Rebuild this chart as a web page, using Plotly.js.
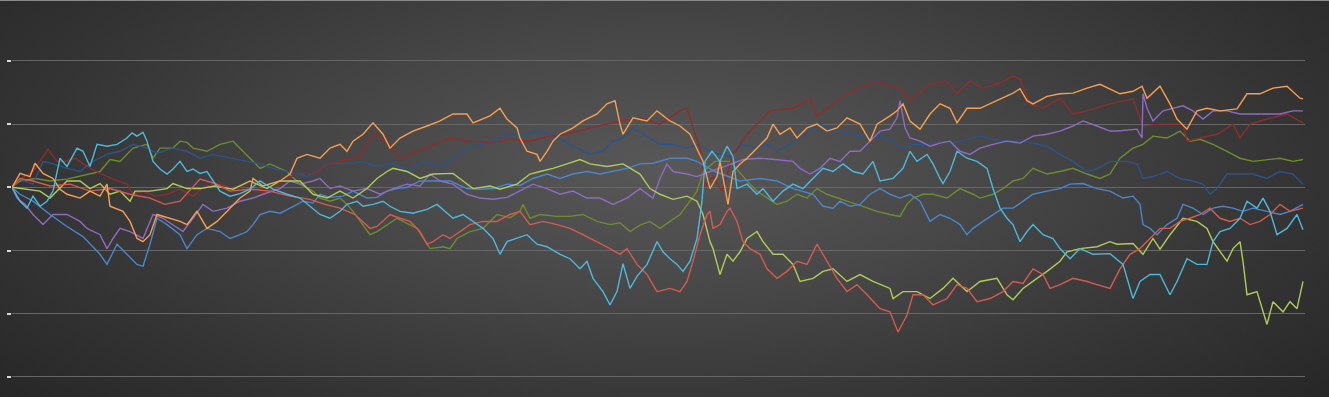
<!DOCTYPE html>
<html>
<head>
<meta charset="utf-8">
<script src="https://cdn.plot.ly/plotly-3.0.1.min.js"></script>
<style>
  html, body { margin: 0; padding: 0; }
  body {
    width: 1329px; height: 397px; overflow: hidden;
    background: radial-gradient(ellipse 70% 95% at 50% 42%, #585858 0%, #474747 35%, #333333 70%, #242424 100%);
  }
  #chart { width: 1329px; height: 397px; border-top: 1px solid #8a8a8a; box-sizing: border-box; }
</style>
</head>
<body>
<div id="chart"></div>
<script>
// Random-walk series (time step, value; one grid step = 1)
const seriesNames = ["Blue", "Dark red", "Orange", "Lime", "Purple", "Cyan", "Red", "Olive", "Navy"];

const tNavy = [0,8,21,31,41,55,68,81,95,108,121,135,145,161,175,188,201,218,235,248,261,275,288,295,305,315,328,341,351,365,381,398,411,428,441,451,461,475,488,501,515,525,538,551,565,578,591,601,611,621,635,648,661,675,685,703,718,731,745,755,765,778,788,798,808,815,828,841,855,868,881,891,901,915,928,941,955,968,981,995,1008,1021,1035,1048,1061,1075,1085,1098,1115,1125,1131,1141,1155,1168,1181,1191,1198,1205,1215,1228,1241,1255,1268,1281,1291];
const vNavy = [0,0.13,0.05,0.41,0.37,0.30,0.25,0.41,0.52,0.57,0.68,0.62,0.54,0.62,0.57,0.46,0.52,0.46,0.41,0.37,0.30,0.25,0.21,0.17,0.25,0.37,0.37,0.38,0.41,0.33,0.38,0.25,0.41,0.33,0.46,0.57,0.65,0.70,0.78,0.84,0.84,0.89,0.84,0.73,0.62,0.52,0.57,0.73,0.78,0.94,0.81,0.68,0.68,0.62,0.68,0.54,0.49,0.68,0.62,0.68,0.57,0.68,0.78,0.89,1.00,0.94,0.89,0.84,0.78,0.81,0.73,0.62,0.68,0.68,0.73,0.70,0.76,0.81,0.76,0.73,0.73,0.70,0.65,0.52,0.41,0.25,0.29,0.41,0.41,0.37,0.14,0.17,0.25,0.14,0.10,0.05,-0.11,-0.02,0.21,0.21,0.21,0.14,0.25,0.21,0.05];

const tOlive = [0,8,23,38,55,75,88,98,108,121,135,141,148,161,168,175,181,195,208,221,228,241,248,258,275,288,301,308,318,328,335,341,351,358,365,375,385,395,405,418,431,438,445,458,471,485,498,508,511,518,528,545,558,571,585,598,608,618,628,638,648,658,668,678,685,691,703,718,735,745,755,765,775,785,795,805,815,825,835,845,855,865,878,888,895,901,911,921,935,948,961,968,981,991,1001,1011,1021,1035,1048,1061,1075,1088,1098,1108,1121,1131,1141,1155,1168,1178,1188,1201,1215,1228,1241,1255,1268,1281,1291];
const vOlive = [0,0.10,0.14,0.10,0.13,0.21,0.25,0.44,0.41,0.62,0.68,0.46,0.62,0.62,0.73,0.71,0.62,0.57,0.68,0.73,0.62,0.41,0.30,0.37,0.25,0.05,-0.06,-0.17,-0.22,-0.17,-0.27,-0.38,-0.59,-0.75,-0.70,-0.59,-0.49,-0.57,-0.65,-0.97,-0.94,-0.97,-0.81,-0.70,-0.65,-0.43,-0.48,-0.38,-0.27,-0.49,-0.43,-0.46,-0.46,-0.43,-0.54,-0.59,-0.56,-0.70,-0.60,-0.54,-0.65,-0.54,-0.43,-0.22,-0.06,0.25,0.41,0.41,0.10,-0.06,-0.17,-0.27,-0.22,-0.11,-0.17,-0.02,-0.11,-0.17,-0.22,-0.27,-0.33,-0.38,-0.43,-0.46,-0.27,-0.17,-0.11,-0.11,-0.17,-0.02,-0.11,-0.17,-0.11,-0.02,0.10,0.14,0.30,0.21,0.25,0.30,0.21,0.14,0.21,0.46,0.62,0.68,0.81,0.78,0.89,0.73,0.76,0.68,0.57,0.46,0.41,0.44,0.46,0.41,0.44];

const tBlue = [0,8,21,38,55,71,88,95,105,115,125,131,138,145,155,168,175,185,195,208,218,228,235,241,248,258,268,278,291,301,308,318,331,341,355,365,375,385,395,408,421,438,455,468,481,495,508,521,535,548,561,575,588,601,615,628,641,658,675,685,703,728,748,765,781,801,811,821,828,838,848,858,868,878,888,898,908,918,928,938,948,955,961,971,981,991,1001,1011,1021,1035,1048,1058,1071,1085,1098,1111,1121,1128,1131,1138,1145,1155,1165,1171,1181,1191,1201,1211,1221,1231,1241,1255,1268,1278,1291];
const vBlue = [0,-0.11,-0.22,-0.43,-0.62,-0.78,-1.06,-1.22,-0.90,-1.06,-1.22,-1.25,-0.90,-0.49,-0.59,-0.75,-0.97,-0.75,-0.65,-0.70,-0.81,-0.75,-0.70,-0.59,-0.43,-0.38,-0.41,-0.33,-0.22,-0.25,-0.11,-0.16,-0.14,-0.06,-0.17,-0.16,-0.06,-0.02,0,0.10,0.10,0.10,-0.02,-0.03,-0.02,0.05,0.03,0.14,0.21,0.14,0.21,0.25,0.21,0.25,0.30,0.37,0.38,0.46,0.46,0.41,0.25,0.10,0.14,0.10,-0.02,-0.11,-0.30,-0.33,-0.22,-0.30,-0.27,-0.11,-0.02,-0.11,-0.17,-0.11,-0.22,-0.54,-0.43,-0.49,-0.59,-0.75,-0.65,-0.54,-0.43,-0.33,-0.33,-0.22,-0.11,-0.06,-0.02,0.05,0.06,-0.02,-0.06,-0.17,-0.14,-0.27,-0.59,-0.65,-0.75,-0.59,-0.49,-0.27,-0.33,-0.43,-0.33,-0.30,-0.33,-0.38,-0.33,-0.38,-0.43,-0.38,-0.27];

const tPurple = [0,5,13,21,31,41,55,68,75,88,95,101,108,118,131,141,151,161,171,181,191,201,215,228,241,251,268,278,288,301,308,318,328,341,355,368,381,395,408,418,428,441,455,468,481,495,508,521,535,548,561,575,588,601,615,628,641,648,655,661,675,685,698,713,731,748,763,781,788,798,808,818,828,838,848,858,868,878,885,888,893,898,908,918,928,938,948,958,968,981,995,1008,1021,1035,1048,1061,1071,1085,1098,1105,1125,1130,1131,1135,1141,1151,1161,1171,1181,1191,1201,1215,1228,1241,1255,1268,1281,1291];
const vPurple = [0,-0.17,-0.27,-0.43,-0.59,-0.43,-0.43,-0.54,-0.65,-0.75,-0.97,-0.81,-0.65,-0.70,-0.81,-0.43,-0.49,-0.59,-0.70,-0.49,-0.27,-0.38,-0.33,-0.22,-0.17,-0.11,-0.02,0.10,0.05,0.10,0.14,-0.02,0.02,-0.06,-0.02,-0.11,-0.02,0.05,0.02,0.21,0.10,0.05,-0.11,-0.17,-0.19,-0.16,-0.06,0.05,-0.02,-0.11,-0.06,-0.17,-0.17,-0.27,-0.17,-0.02,-0.17,0.14,0.37,0.25,0.21,0.17,0.25,0.33,0.44,0.46,0.44,0.41,0.30,0.21,0.30,0.46,0.41,0.57,0.57,0.73,0.89,0.92,1.10,1.37,0.94,0.78,0.73,0.65,0.70,0.73,0.57,0.52,0.62,0.68,0.73,0.70,0.81,0.84,0.89,0.97,1.05,0.97,0.89,0.89,0.92,0.78,1.48,1.25,1.05,1.21,1.25,1.29,1.21,1.08,1.21,1.21,1.16,1.16,1.17,1.16,1.21,1.21];

const tLime = [0,13,28,38,55,68,78,88,98,108,118,123,138,155,161,175,188,203,221,238,255,268,288,301,315,328,341,355,365,375,381,395,408,421,441,451,461,478,488,505,518,528,541,555,568,578,595,611,628,638,648,661,675,685,691,698,701,708,715,721,728,735,745,751,761,771,781,788,801,811,821,835,848,861,878,881,891,905,918,931,941,955,968,985,995,1001,1011,1025,1035,1048,1055,1068,1085,1098,1105,1121,1131,1141,1148,1158,1171,1185,1195,1201,1208,1215,1221,1228,1231,1235,1245,1255,1261,1271,1278,1285,1291];
const vLime = [0,-0.03,-0.06,-0.17,0.10,0.10,-0.02,0.06,-0.11,-0.06,-0.22,-0.06,-0.06,-0.02,0.06,-0.02,-0.02,0.02,-0.03,0.10,-0.02,0.10,0.10,-0.11,-0.17,-0.06,-0.17,-0.02,0.14,0.25,0.30,0.25,0.14,0.21,0.22,0.10,-0.02,0.02,-0.03,0.05,0.21,0.25,0.30,0.37,0.44,0.37,0.33,0.37,0.21,-0.02,-0.11,-0.19,-0.14,-0.22,-0.43,-0.86,-0.97,-1.38,-1.06,-1.17,-1.02,-0.81,-0.70,-0.86,-1.06,-1.06,-1.22,-1.49,-1.44,-1.33,-1.29,-1.49,-1.38,-1.49,-1.60,-1.76,-1.65,-1.65,-1.76,-1.60,-1.44,-1.65,-1.49,-1.44,-1.70,-1.78,-1.60,-1.44,-1.33,-1.17,-1.02,-0.97,-0.94,-0.86,-0.90,-0.89,-1.06,-0.81,-0.98,-0.75,-0.49,-0.54,-0.65,-0.86,-1.02,-1.17,-0.97,-0.86,-1.17,-1.70,-1.65,-2.17,-1.81,-1.97,-1.81,-1.92,-1.49];

const tRed = [0,8,21,38,58,78,98,118,138,153,168,188,203,218,238,258,278,298,313,328,343,358,365,378,388,398,408,415,421,431,438,448,458,471,485,498,508,518,531,545,558,571,585,598,608,615,625,635,645,658,668,675,681,688,695,698,701,708,715,718,725,731,738,748,755,765,775,785,795,805,815,825,835,845,855,868,878,886,895,901,911,921,935,945,955,965,978,991,1001,1011,1021,1031,1038,1048,1061,1075,1085,1098,1108,1118,1128,1138,1148,1158,1168,1178,1188,1198,1208,1218,1228,1238,1248,1258,1268,1278,1291];
const vRed = [0,0.14,0.10,0.02,0.05,-0.06,-0.02,-0.11,-0.17,-0.27,-0.22,0.13,0.06,-0.06,-0.03,-0.06,-0.14,-0.19,-0.27,-0.33,-0.43,-0.65,-0.62,-0.43,-0.49,-0.54,-0.70,-0.90,-0.86,-0.75,-0.81,-0.70,-0.59,-0.54,-0.54,-0.43,-0.38,-0.59,-0.54,-0.59,-0.65,-0.75,-0.86,-0.97,-1.06,-0.97,-1.22,-1.38,-1.65,-1.60,-1.65,-1.49,-1.17,-0.75,-0.43,-0.38,-0.65,-0.59,-0.38,-0.33,-0.54,-0.86,-0.97,-1.06,-1.29,-1.44,-1.33,-1.17,-1.22,-0.90,-1.17,-1.44,-1.65,-1.54,-1.70,-1.92,-1.97,-2.29,-2.02,-1.70,-1.70,-1.86,-1.76,-1.54,-1.60,-1.81,-1.76,-1.65,-1.49,-1.52,-1.29,-1.38,-1.60,-1.54,-1.44,-1.49,-1.54,-1.60,-1.29,-1.06,-0.97,-0.81,-0.65,-0.65,-0.54,-0.49,-0.43,-0.33,-0.49,-0.54,-0.49,-0.59,-0.54,-0.43,-0.27,-0.38,-0.33];

const tCyan = [0,8,15,21,28,35,41,48,55,65,71,78,85,95,105,115,120,125,131,135,141,148,155,161,168,175,181,188,195,201,208,218,228,238,248,261,275,288,301,308,318,328,335,345,351,361,371,378,388,401,415,425,441,451,461,471,481,488,495,505,515,525,535,548,558,568,575,581,591,598,605,611,618,625,635,645,651,658,665,671,678,685,690,693,700,708,715,721,725,735,745,751,761,771,781,791,801,811,821,831,841,851,861,868,881,891,898,905,915,921,928,931,938,945,955,965,975,981,988,995,1001,1008,1015,1021,1031,1041,1048,1058,1068,1081,1098,1111,1121,1128,1138,1148,1158,1165,1175,1185,1195,1201,1208,1218,1228,1235,1245,1251,1258,1265,1275,1285,1291];
const vCyan = [0,-0.22,-0.33,-0.14,-0.30,-0.22,-0.06,0.46,0.33,0.62,0.57,0.33,0.68,0.65,0.68,0.78,0.86,0.81,0.87,0.73,0.41,0.29,0.21,0.29,0.41,0.25,0.29,0.22,0.25,0.10,-0.06,-0.14,-0.10,-0.03,0.10,-0.03,-0.11,-0.17,-0.33,-0.43,-0.49,-0.38,-0.27,-0.22,-0.30,-0.27,-0.22,-0.30,-0.38,-0.41,-0.35,-0.27,-0.49,-0.43,-0.54,-0.65,-0.81,-1.06,-0.86,-0.81,-0.75,-0.90,-0.94,-1.06,-1.13,-1.29,-1.17,-1.44,-1.65,-1.86,-1.65,-1.21,-1.60,-1.41,-1.22,-0.86,-1.02,-1.13,-1.22,-1.33,-1.17,-0.81,-0.22,0.41,0.57,0.41,0.65,0.49,-0.02,0.05,-0.11,-0.02,-0.22,-0.06,0.05,-0.02,0.14,0.30,0.25,0.37,0.25,0.21,0.41,0.10,0.14,0.30,0.57,0.41,0.52,0.37,0.14,0.06,0.25,0.57,0.46,0.41,0.30,-0.02,-0.33,-0.49,-0.59,-0.86,-0.70,-0.59,-0.75,-0.81,-0.97,-1.13,-0.97,-1.06,-1.05,-1.22,-1.76,-1.49,-1.38,-1.38,-1.70,-1.49,-1.13,-1.22,-1.22,-0.86,-0.70,-0.65,-0.49,-0.22,-0.33,-0.17,-0.38,-0.75,-0.65,-0.43,-0.67];

const tOrange = [0,8,18,23,31,41,48,55,68,78,88,95,98,111,118,125,131,138,145,158,168,175,185,195,205,218,228,238,241,251,268,278,285,295,308,318,328,335,341,351,361,371,378,388,401,415,428,441,455,461,478,488,495,505,508,515,525,528,535,541,548,561,571,585,595,603,608,611,621,635,645,658,668,678,685,691,698,705,708,716,721,728,735,745,755,761,768,778,785,795,805,815,825,835,848,858,865,878,885,891,898,908,918,928,938,945,955,968,985,1001,1008,1015,1021,1035,1048,1061,1075,1088,1108,1121,1130,1135,1148,1158,1165,1175,1185,1195,1208,1225,1235,1248,1261,1275,1288,1291];
const vOrange = [0,0.22,0.17,0.38,0.22,0.14,-0.03,-0.11,-0.17,-0.06,-0.14,0.05,-0.30,-0.38,-0.54,-0.81,-0.86,-0.75,-0.43,-0.49,-0.54,-0.59,-0.38,-0.65,-0.54,-0.33,-0.17,-0.06,0.14,0.02,0.10,0.21,0.46,0.52,0.46,0.62,0.68,0.57,0.73,0.84,1.02,0.84,0.62,0.78,0.89,0.97,1.05,1.16,1.16,1.02,1.13,1.25,1.08,0.94,0.78,0.57,0.52,0.41,0.57,0.73,0.84,0.94,1.05,1.16,1.32,1.37,1.00,0.84,1.10,1.05,1.21,1.05,0.97,0.84,0.62,0.41,-0.02,0.17,0.41,-0.27,0.25,0.37,0.46,0.62,0.78,1.00,0.84,0.94,0.78,0.94,1.00,0.89,0.94,1.10,1.00,0.73,1.00,1.13,1.21,1.32,1.05,0.92,1.16,1.32,1.25,1.02,1.25,1.25,1.37,1.49,1.56,1.37,1.32,1.44,1.48,1.49,1.57,1.63,1.48,1.52,1.60,1.41,1.60,1.32,1.08,0.92,1.21,1.25,1.21,1.24,1.48,1.48,1.57,1.60,1.41,1.40];

const tDarkRed = [0,8,21,36,45,53,63,75,88,101,115,121,131,143,155,168,181,193,208,223,241,251,268,285,301,318,335,348,361,375,388,401,418,438,458,478,498,518,538,555,578,608,628,648,668,675,681,688,693,701,710,721,738,758,781,798,805,821,835,848,865,878,888,898,918,935,945,958,971,988,1001,1008,1018,1031,1048,1061,1075,1098,1121,1131,1148,1171,1175,1188,1205,1221,1228,1238,1255,1275,1291];
const vDarkRed = [0,0.13,0.25,0.60,0.41,0.41,0.46,0.33,0.22,0.13,0.05,-0.11,-0.06,-0.14,-0.11,-0.03,-0.14,0.02,0.05,-0.03,0.10,-0.10,0.06,0.22,0.22,0.37,0.44,0.49,0.84,0.73,0.46,0.54,0.65,0.78,0.73,0.70,0.76,0.73,0.81,0.84,0.94,1.05,1.10,1.00,1.21,1.25,0.94,0.62,0.02,0.17,-0.06,0.52,0.89,1.21,1.25,1.40,1.13,1.32,1.48,1.57,1.68,1.60,1.57,1.37,1.63,1.68,1.49,1.68,1.57,1.65,1.76,1.71,1.32,1.25,1.41,1.16,1.21,1.32,1.40,0.97,1.00,1.00,0.73,0.78,0.84,1.00,0.78,1.00,1.08,1.16,1.02];

const seriesT = [tBlue, tDarkRed, tOrange, tLime, tPurple, tCyan, tRed, tOlive, tNavy];
const seriesV = [vBlue, vDarkRed, vOrange, vLime, vPurple, vCyan, vRed, vOlive, vNavy];
const seriesColors = ["#4a86c9", "#8e2e2c", "#f99f4f", "#b0cc58", "#8d6cbf", "#4db9dc", "#d65a4e", "#6e8c2f", "#2c5488"];

const drawOrder = [7, 8, 1, 0, 4, 3, 6, 2, 5];
const traces = drawOrder.map(i => ({
  type: "scatter",
  mode: "lines",
  name: seriesNames[i],
  x: seriesT[i],
  y: seriesV[i],
  line: { color: seriesColors[i], width: 1.4 },
  hoverinfo: "skip"
}));

const layout = {
  width: 1329,
  height: 397,
  margin: { l: 12, r: 24, t: 0, b: 0, pad: 0 },
  paper_bgcolor: "rgba(0,0,0,0)",
  plot_bgcolor: "rgba(0,0,0,0)",
  showlegend: false,
  xaxis: {
    range: [0, 1293],
    showgrid: false, zeroline: false, showline: false,
    showticklabels: false, ticks: ""
  },
  yaxis: {
    range: [-3.334, 2.948],
    tick0: 0, dtick: 1,
    showgrid: true, gridcolor: "#666666", gridwidth: 1,
    zeroline: false, showline: false,
    showticklabels: false,
    ticks: "outside", ticklen: 4, tickwidth: 2, tickcolor: "#d8d8d8"
  }
};

Plotly.newPlot("chart", traces, layout, { staticPlot: true, displayModeBar: false });
</script>
</body>
</html>
